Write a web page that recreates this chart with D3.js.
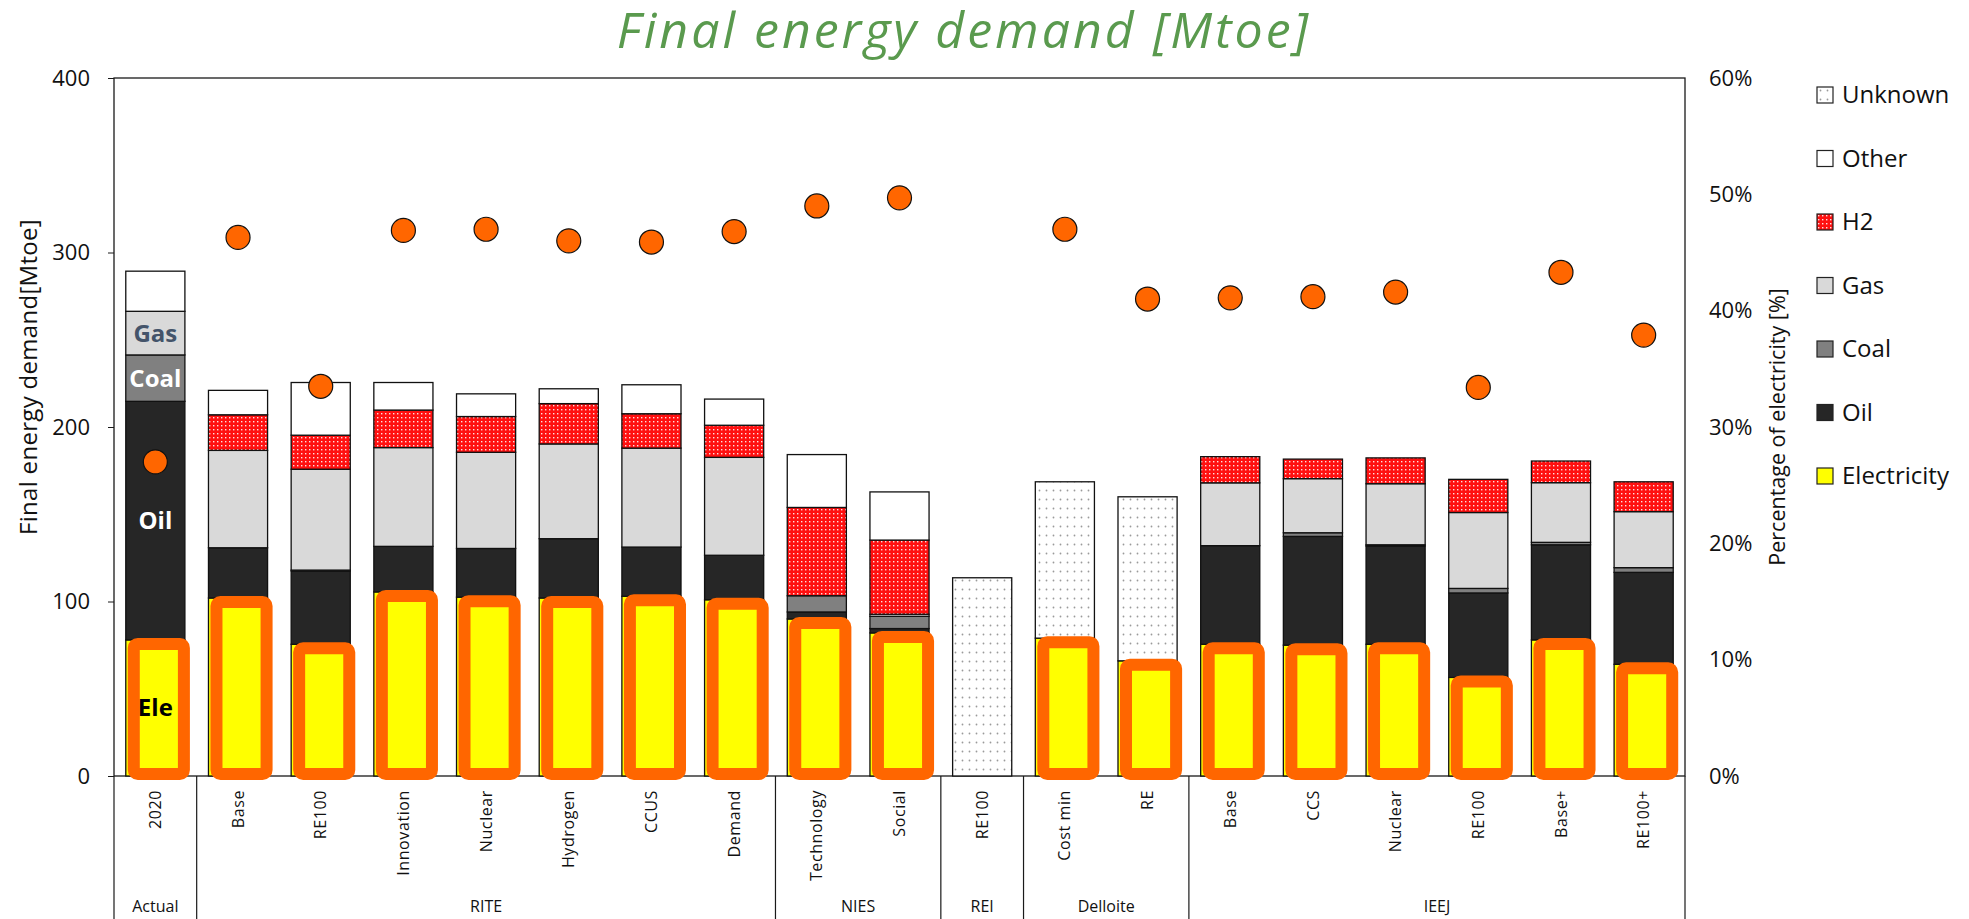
<!DOCTYPE html>
<html>
<head>
<meta charset="utf-8">
<script src="https://cdn.jsdelivr.net/npm/d3@7"></script>
<style>
  html, body { margin: 0; padding: 0; background: #fff; }
  svg { display: block; font-family: "Open Sans", "DejaVu Sans", sans-serif; }
</style>
</head>
<body>
<svg id="chart" width="1969" height="919"></svg>
<script>
// Scenario labels (bottom axis, first level)
const scenarios = ["2020", "Base", "RE100", "Innovation", "Nuclear", "Hydrogen", "CCUS", "Demand",
  "Technology", "Social", "RE100", "Cost min", "RE", "Base", "CCS", "Nuclear", "RE100", "Base+", "RE100+"];

// Institutions (bottom axis, second level) and how many scenarios each covers
const groupNames = ["Actual", "RITE", "NIES", "REI", "Delloite", "IEEJ"];
const groupSizes = [1, 7, 2, 1, 2, 6];

// Final energy demand by carrier [Mtoe]
const electricity = [78, 102, 75.5, 105.5, 102.5, 102, 103, 101, 90, 82, 0, 79, 66, 75.5, 75, 75.5, 56.5, 78, 64];
const oil         = [136.7, 28.8, 42, 26.1, 27.9, 34, 28.2, 25.5, 4, 2.5, 0, 0, 0, 56.5, 62.3, 56.3, 48.4, 54.5, 52.7];
const coal        = [26.6, 0, 0.5, 0, 0, 0, 0, 0, 9.3, 7, 0, 0, 0, 0, 2.1, 0.7, 2.6, 1.4, 2.7];
const gas         = [25, 55.8, 57.8, 56.6, 55.1, 54.3, 56.7, 56.1, 0, 1.2, 0, 0, 0, 36, 31, 35, 43.5, 34.2, 32.1];
const h2          = [0, 20.4, 19.5, 21.5, 20.5, 23.1, 19.7, 18.4, 50.6, 42.5, 0, 0, 0, 15, 11.2, 14.8, 19, 12.4, 17.1];
const other       = [23, 14, 30.2, 15.8, 13, 8.5, 16.6, 15, 30.3, 27.6, 0, 0, 0, 0, 0, 0, 0, 0, 0];
const unknown     = [0, 0, 0, 0, 0, 0, 0, 0, 0, 0, 113.6, 89.6, 94, 0, 0, 0, 0, 0, 0];

// Share of electricity in final energy demand [%] (right axis)
const elecShare = [27.0, 46.3, 33.5, 46.9, 47.0, 46.0, 45.9, 46.8, 49.0, 49.7, null, 47.0, 41.0, 41.1, 41.2, 41.6, 33.4, 43.3, 37.9];

// Axis ticks
const leftTicks = [0, 100, 200, 300, 400];
const rightTicks = [0, 10, 20, 30, 40, 50, 60];

// Stack order, bottom to top
const seriesKeys = ["Electricity", "Oil", "Coal", "Gas", "H2", "Other", "Unknown"];
const seriesValues = { Electricity: electricity, Oil: oil, Coal: coal, Gas: gas, H2: h2, Other: other, Unknown: unknown };
const legendOrder = ["Unknown", "Other", "H2", "Gas", "Coal", "Oil", "Electricity"];

const fills = {
  Electricity: "#FFFF00",
  Oil: "#262626",
  Coal: "#808080",
  Gas: "#D9D9D9",
  H2: "url(#pat-h2)",
  Other: "#FFFFFF",
  Unknown: "url(#pat-unknown)"
};

const svg = d3.select("#chart");
const plot = { left: 114, right: 1685, top: 78, bottom: 776 };

// Patterns
const defs = svg.append("defs");
const pH2 = defs.append("pattern").attr("id", "pat-h2")
  .attr("patternUnits", "userSpaceOnUse").attr("width", 4).attr("height", 4);
pH2.append("rect").attr("width", 4).attr("height", 4).attr("fill", "#FF1010");
pH2.append("rect").attr("x", 1).attr("y", 1).attr("width", 1.4).attr("height", 1.4).attr("fill", "#FFE0E0");

const pUn = defs.append("pattern").attr("id", "pat-unknown")
  .attr("patternUnits", "userSpaceOnUse").attr("width", 7).attr("height", 9);
pUn.append("rect").attr("width", 7).attr("height", 9).attr("fill", "#FFFFFF");
pUn.append("circle").attr("cx", 3.5).attr("cy", 4.5).attr("r", 0.9).attr("fill", "#9a9a9a");

// Scales
const idx = d3.range(scenarios.length);
const x = d3.scaleBand().domain(idx).range([plot.left, plot.right])
  .paddingInner(0.285).paddingOuter(0.1425);
const y = d3.scaleLinear().domain([0, 400]).range([plot.bottom, plot.top]);
const yRight = d3.scaleLinear().domain([0, 60]).range([plot.bottom, plot.top]);
const step = x.step();
const bw = x.bandwidth();

// Stacked table
const table = idx.map(i => {
  const row = { i };
  seriesKeys.forEach(k => row[k] = seriesValues[k][i]);
  return row;
});
const stacked = d3.stack().keys(seriesKeys)(table);

// Plot frame
svg.append("rect")
  .attr("x", plot.left).attr("y", plot.top)
  .attr("width", plot.right - plot.left).attr("height", plot.bottom - plot.top)
  .attr("fill", "none").attr("stroke", "#1a1a1a").attr("stroke-width", 1.3);

// Bars
const layers = svg.append("g").selectAll("g").data(stacked).join("g")
  .attr("fill", d => fills[d.key]);
layers.selectAll("rect")
  .data(d => d.filter(s => s[1] - s[0] > 0))
  .join("rect")
  .attr("x", d => x(d.data.i))
  .attr("y", d => y(d[1]))
  .attr("width", bw)
  .attr("height", d => y(d[0]) - y(d[1]))
  .attr("stroke", "#111")
  .attr("stroke-width", 1.3);

// Highlight frames around the electricity segment
const sw = 12;
svg.append("g").selectAll("rect")
  .data(idx.filter(i => electricity[i] > 0))
  .join("rect")
  .attr("x", i => x(i) + 2 + sw / 2)
  .attr("y", i => y(electricity[i]) - 2 + sw / 2)
  .attr("width", bw + 3 - sw)
  .attr("height", i => (y(0) + 4) - (y(electricity[i]) - 2) - sw)
  .attr("rx", 4)
  .attr("fill", "#FFFF00")
  .attr("stroke", "#FF6600")
  .attr("stroke-width", sw);

// Electricity share markers
svg.append("g").selectAll("circle")
  .data(idx.filter(i => elecShare[i] != null))
  .join("circle")
  .attr("cx", i => x(i) + bw / 2)
  .attr("cy", i => yRight(elecShare[i]))
  .attr("r", 12)
  .attr("fill", "#FF6600")
  .attr("stroke", "#111")
  .attr("stroke-width", 1.2);

// In-bar labels for the 2020 column
const firstCol = stacked.map(s => ({ key: s.key, lo: s[0][0], hi: s[0][1] }));
const inLabels = [
  { key: "Gas", text: "Gas", color: "#44546A" },
  { key: "Coal", text: "Coal", color: "#FFFFFF" },
  { key: "Oil", text: "Oil", color: "#FFFFFF" },
  { key: "Electricity", text: "Ele", color: "#000000" }
];
svg.append("g").selectAll("text").data(inLabels).join("text")
  .attr("x", x(0) + bw / 2)
  .attr("y", d => { const s = firstCol.find(c => c.key === d.key); return y((s.lo + s.hi) / 2); })
  .attr("dy", "0.35em")
  .attr("text-anchor", "middle")
  .attr("font-weight", "bold")
  .attr("font-size", 24)
  .attr("fill", d => d.color)
  .text(d => d.text);

// Left axis
const gl = svg.append("g").attr("transform", `translate(${plot.left},0)`)
  .call(d3.axisLeft(y).tickValues(leftTicks).tickSize(6).tickPadding(18));
gl.select(".domain").remove();
gl.selectAll("line").attr("stroke", "#1a1a1a");
gl.selectAll("text").attr("font-size", 22).attr("fill", "#111").attr("font-family", "Open Sans, sans-serif");

// Right axis
const gr = svg.append("g").attr("transform", `translate(${plot.right},0)`)
  .call(d3.axisRight(yRight).tickValues(rightTicks).tickSize(0).tickPadding(24).tickFormat(d => d + "%"));
gr.select(".domain").remove();
gr.selectAll("text").attr("font-size", 22).attr("fill", "#111").attr("font-family", "Open Sans, sans-serif");

// Axis titles
svg.append("text")
  .attr("transform", `translate(29,377) rotate(-90)`)
  .attr("text-anchor", "middle").attr("dy", "0.35em")
  .attr("font-size", 24).attr("letter-spacing", 0.3).attr("fill", "#111")
  .text("Final energy demand[Mtoe]");
svg.append("text")
  .attr("transform", `translate(1777,${(plot.top + plot.bottom) / 2}) rotate(-90)`)
  .attr("text-anchor", "middle").attr("dy", "0.35em")
  .attr("font-size", 21.5).attr("fill", "#111")
  .text("Percentage of electricity [%]");

// Chart title
svg.append("text")
  .attr("x", 964).attr("y", 48)
  .attr("text-anchor", "middle")
  .attr("font-style", "italic")
  .attr("font-size", 50)
  .attr("letter-spacing", 3)
  .attr("fill", "#5A9A4E")
  .text("Final energy demand [Mtoe]");

// Scenario labels
svg.append("g").selectAll("text").data(idx).join("text")
  .attr("transform", i => `translate(${x(i) + bw / 2},790) rotate(-90)`)
  .attr("text-anchor", "end")
  .attr("dy", "0.35em")
  .attr("font-size", 16)
  .attr("letter-spacing", 0.6)
  .attr("fill", "#111")
  .text(i => scenarios[i]);

// Institution labels and separators
const bounds = [0];
groupSizes.forEach(n => bounds.push(bounds[bounds.length - 1] + n));
const sepX = k => plot.left + k * step;
svg.append("g").selectAll("line").data(bounds).join("line")
  .attr("x1", k => sepX(k)).attr("x2", k => sepX(k))
  .attr("y1", plot.bottom).attr("y2", 919)
  .attr("stroke", "#1a1a1a").attr("stroke-width", 1.2);
svg.append("g").selectAll("text").data(groupNames).join("text")
  .attr("x", (d, g) => (sepX(bounds[g]) + sepX(bounds[g + 1])) / 2)
  .attr("y", 906)
  .attr("dy", "0.35em")
  .attr("text-anchor", "middle")
  .attr("font-size", 16)
  .attr("fill", "#111")
  .text(d => d);

// Legend
const lg = svg.append("g").selectAll("g").data(legendOrder).join("g")
  .attr("transform", (d, j) => `translate(1817,${95 + j * 63.5})`);
lg.append("rect")
  .attr("x", 0).attr("y", -8).attr("width", 16).attr("height", 16)
  .attr("fill", d => fills[d])
  .attr("stroke", "#222").attr("stroke-width", 1.2);
lg.append("text")
  .attr("x", 25).attr("dy", "0.35em")
  .attr("font-size", 24).attr("fill", "#111")
  .text(d => d);
</script>
</body>
</html>
